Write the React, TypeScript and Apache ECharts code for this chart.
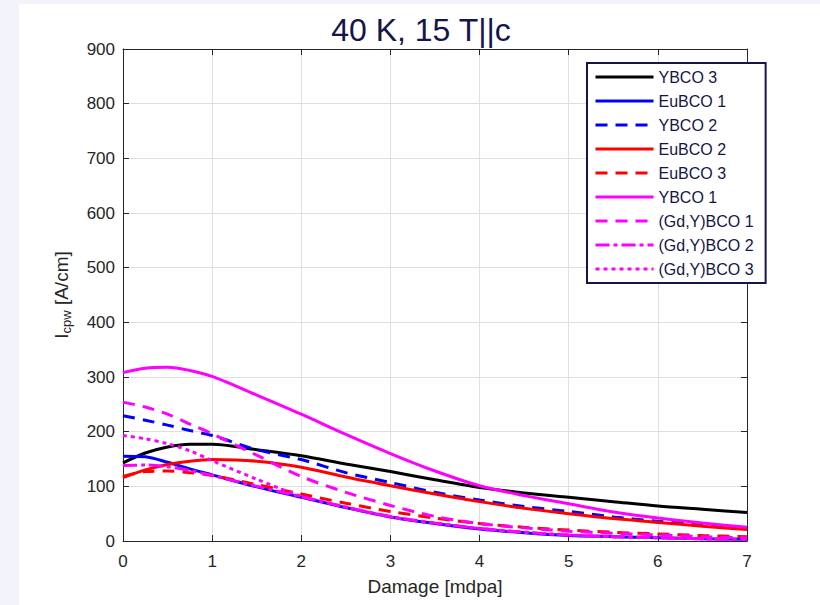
import React, { useEffect, useRef } from "react";
import * as echarts from "echarts";

const damage = [0, 0.25, 0.5, 0.75, 1, 1.5, 2, 2.5, 3, 3.5, 4, 4.5, 5, 5.5, 6, 6.5, 7];
const ybco3 = [143, 161, 172, 177, 177, 167, 156, 141, 127, 112, 98, 88, 80, 72, 64, 58, 52];
const eubco1 = [155, 154, 144, 132, 121, 99, 80, 61, 44, 32, 22, 15, 10, 8, 6, 4, 3];
const ybco2 = [229, 221, 212, 202, 193, 167, 149, 125, 107, 89, 75, 63, 54, 44, 36, 29, 23];
const eubco2 = [116, 130, 140, 146, 149, 146, 135, 117, 101, 86, 72, 60, 50, 41, 34, 27, 21];
const eubco3 = [118, 127, 128, 125, 120, 103, 86, 69, 54, 42, 32, 25, 20, 16, 13, 10, 8];
const ybco1 = [308, 316, 318, 312, 301, 267, 232, 195, 160, 128, 101, 83, 68, 53, 42, 33, 25];
const gdy1 = [254, 245, 232, 214, 196, 157, 118, 89, 65, 45, 32, 24, 18, 14, 11, 8, 6];
const gdy2 = [138, 139, 136, 129, 120, 100, 81, 62, 45, 33, 23, 16, 11, 8, 6, 4, 3];
const gdy3 = [193, 187, 178, 165, 147, 113, 82, 62, 44, 32, 23, 16, 11, 8, 6, 4, 3];

const seriesNames = [
  "YBCO 3",
  "EuBCO 1",
  "YBCO 2",
  "EuBCO 2",
  "EuBCO 3",
  "YBCO 1",
  "(Gd,Y)BCO 1",
  "(Gd,Y)BCO 2",
  "(Gd,Y)BCO 3",
];
const seriesValues = [ybco3, eubco1, ybco2, eubco2, eubco3, ybco1, gdy1, gdy2, gdy3];

const xTicks = [0, 7, 1];
const yTicks = [0, 900, 100];

const FONT = "'Liberation Sans', Arial, sans-serif";
const AX = "#262626";
const NAVY = "#15154a";

export default function App() {
  const ref = useRef<HTMLDivElement>(null);
  useEffect(() => {
    document.body.style.margin = "0";
    if (!ref.current) return;
    const chart = echarts.init(ref.current, null, { renderer: "svg" });
    const colors = ["#000000", "#0000ff", "#0000ff", "#ff0000", "#ff0000", "#ff00ff", "#ff00ff", "#ff00ff", "#ff00ff"];
    const dashes: any[] = ["solid", "solid", [12, 8], "solid", [12, 8], "solid", [12, 8], [14, 4, 4, 4], [4, 4]];
    const series = seriesNames.map((name, k) => ({
      name,
      type: "line",
      xAxisIndex: 0,
      yAxisIndex: 0,
      symbol: "none",
      symbolSize: 0,
      smooth: 0.3,
      data: damage.map((d, i) => [d, seriesValues[k][i]]),
      lineStyle: { color: colors[k], width: 3, type: dashes[k] },
      itemStyle: { color: colors[k] },
      z: 3,
    }));
    const option: any = {
      animation: false,
      backgroundColor: "#ffffff",
      graphic: [
        { type: "rect", shape: { x: 0, y: 0, width: 19, height: 605 }, style: { fill: "#f3f3fc" }, silent: true },
        { type: "rect", shape: { x: 0, y: 0, width: 820, height: 4 }, style: { fill: "#f3f3fc" }, silent: true },
        {
          type: "text",
          x: 421,
          y: 30,
          style: {
            text: "40 K, 15 T||c",
            fontFamily: FONT,
            fontSize: 32,
            fill: NAVY,
            textAlign: "center",
            textVerticalAlign: "middle",
          },
        },
      ],
      grid: { left: 123, right: 73, top: 49, bottom: 64, containLabel: false },
      legend: {
        orient: "vertical",
        left: 587,
        top: 63,
        itemWidth: 58,
        itemHeight: 16,
        itemGap: 8,
        padding: [6, 12, 6, 7],
        borderColor: NAVY,
        borderWidth: 2,
        borderRadius: 0,
        backgroundColor: "#ffffff",
        lineStyle: { width: 3 },
        itemStyle: { opacity: 0, borderWidth: 0 },
        textStyle: { fontFamily: FONT, fontSize: 16, color: NAVY },
        data: seriesNames,
      },
      xAxis: [
        {
          type: "value",
          min: xTicks[0],
          max: xTicks[1],
          interval: xTicks[2],
          name: "Damage [mdpa]",
          nameLocation: "middle",
          nameGap: 36,
          nameTextStyle: { fontFamily: FONT, fontSize: 19, color: AX },
          axisLine: { show: true, onZero: false, lineStyle: { color: AX, width: 1 } },
          axisTick: { show: true, inside: true, length: 6, lineStyle: { color: AX } },
          axisLabel: { fontFamily: FONT, fontSize: 17, color: AX, margin: 12 },
          splitLine: { show: true, lineStyle: { color: "#dfdfdf", width: 1 } },
        },
        {
          type: "value",
          position: "top",
          min: xTicks[0],
          max: xTicks[1],
          interval: xTicks[2],
          axisLine: { show: true, onZero: false, lineStyle: { color: AX, width: 1 } },
          axisTick: { show: true, inside: true, length: 6, lineStyle: { color: AX } },
          axisLabel: { show: false },
          splitLine: { show: false },
        },
      ],
      yAxis: [
        {
          type: "value",
          min: yTicks[0],
          max: yTicks[1],
          interval: yTicks[2],
          name: "{i|I}{s|cpw}{i| [A/cm]}",
          nameLocation: "middle",
          nameRotate: 90,
          nameGap: 50,
          nameTextStyle: {
            rich: {
              i: { fontFamily: FONT, fontSize: 19, color: AX },
              s: { fontFamily: FONT, fontSize: 13, color: AX, padding: [10, 0, 0, 0] },
            },
          },
          axisLine: { show: true, onZero: false, lineStyle: { color: AX, width: 1 } },
          axisTick: { show: true, inside: true, length: 6, lineStyle: { color: AX } },
          axisLabel: { fontFamily: FONT, fontSize: 17, color: AX, margin: 8 },
          splitLine: { show: true, lineStyle: { color: "#dfdfdf", width: 1 } },
        },
        {
          type: "value",
          position: "right",
          min: yTicks[0],
          max: yTicks[1],
          interval: yTicks[2],
          axisLine: { show: true, onZero: false, lineStyle: { color: AX, width: 1 } },
          axisTick: { show: true, inside: true, length: 6, lineStyle: { color: AX } },
          axisLabel: { show: false },
          splitLine: { show: false },
        },
      ],
      series,
    };
    chart.setOption(option);
    return () => chart.dispose();
  }, []);
  return <div ref={ref} style={{ width: 820, height: 605 }} />;
}
